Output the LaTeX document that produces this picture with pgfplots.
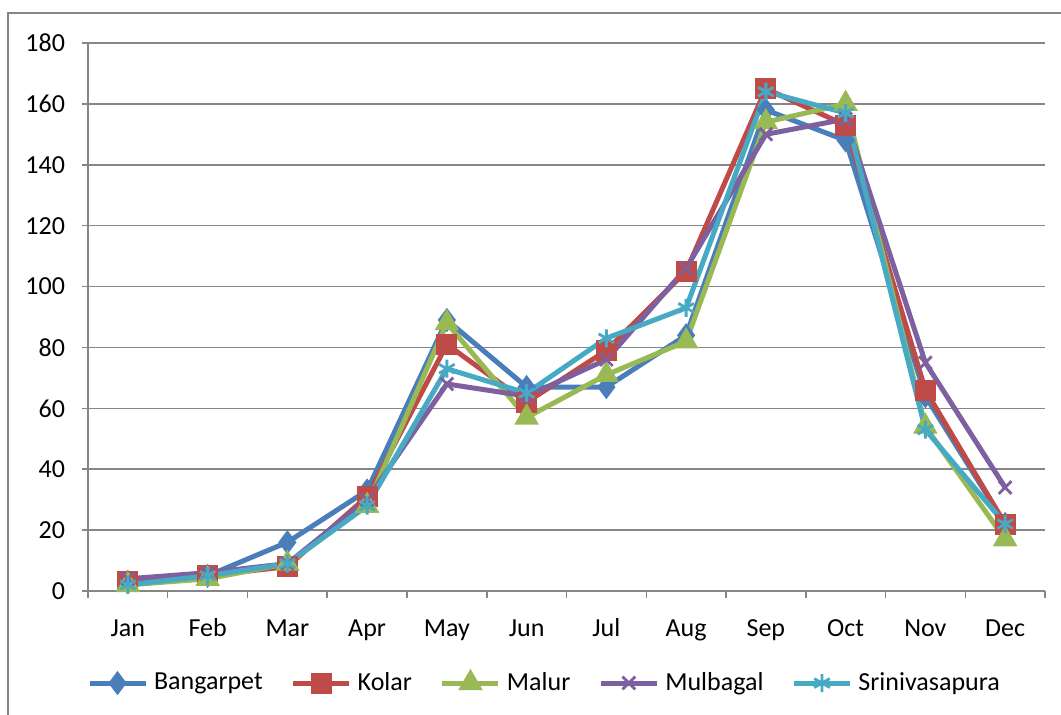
\documentclass[border=0pt]{standalone}
\usepackage{fontspec}
\setmainfont{Carlito}
\usepackage{pgfplots}
\pgfplotsset{compat=1.18}

\definecolor{cBan}{RGB}{74,126,187}
\definecolor{cKol}{RGB}{190,75,72}
\definecolor{cMal}{RGB}{152,185,84}
\definecolor{cMul}{RGB}{125,96,160}
\definecolor{cSri}{RGB}{70,170,197}
\definecolor{gridgray}{RGB}{134,134,134}

\begin{document}
\begin{tikzpicture}
\begin{axis}[at={(0,0)},anchor=south west,
  scale only axis,width=478.5pt,height=274pt,
  xmin=-0.5,xmax=11.5,ymin=0,ymax=180,
  xtick={0,...,11},
  xticklabels={Jan,Feb,Mar,Apr,May,Jun,Jul,Aug,Sep,Oct,Nov,Dec},
  minor xtick={-0.5,0.5,...,11.5},
  ytick={0,20,...,180},
  axis x line*=bottom,axis y line*=left,
  axis line style={gridgray,line width=0.75pt},
  ymajorgrids=true,
  grid style={gridgray,line width=0.75pt},
  tick align=outside,
  major tick length=3pt,minor tick length=3.5pt,
  every major x tick/.append style={draw=none},
  tick style={gridgray,line width=0.75pt},
  /pgf/number format/assume math mode=true,
  tick label style={font=\fontsize{13}{15}\selectfont,black},
  xticklabel style={text height=9pt,text depth=3pt,yshift=-7pt},
  yticklabel style={xshift=-5pt},
  legend style={font=\fontsize{13}{15}\selectfont,draw=none,
    at={(axis description cs:0.478,-0.168)},anchor=center,
    legend columns=5,
    /tikz/every odd column/.append style={column sep=1pt},
    /tikz/every even column/.append style={column sep=12pt}},
  legend image code/.code={
    \draw[mark repeat=2,mark phase=2] plot coordinates {(0pt,0pt) (14pt,0pt) (28pt,0pt)};},
  every axis plot/.append style={line width=2.5pt},
  ]
\addplot[cBan,mark=diamond*,mark size=4pt,mark options={solid}] coordinates {
(0,3) (1,5) (2,16) (3,33) (4,89) (5,67) (6,67) (7,84) (8,158) (9,148) (10,64) (11,22)
};
\addlegendentry{Bangarpet}
\addplot[cKol,mark=square*,mark size=4pt] coordinates {
(0,3) (1,5) (2,8) (3,31) (4,81) (5,62) (6,79) (7,105) (8,165) (9,153) (10,66) (11,22)
};
\addlegendentry{Kolar}
\addplot[cMal,mark=triangle*,mark size=4.6pt] coordinates {
(0,2) (1,4) (2,9) (3,28) (4,88) (5,57) (6,71) (7,82) (8,154) (9,160) (10,54) (11,17)
};
\addlegendentry{Malur}
\addplot[cMul,mark=x,mark size=4.5pt,mark options={line width=1.4pt}] coordinates {
(0,4) (1,6) (2,9) (3,30) (4,68) (5,64) (6,76) (7,106) (8,150) (9,155) (10,75) (11,34)
};
\addlegendentry{Mulbagal}
\addplot[cSri,mark=asterisk,mark size=4.5pt,mark options={line width=1.4pt}] coordinates {
(0,2) (1,5) (2,9) (3,28) (4,73) (5,65) (6,83) (7,93) (8,164) (9,157) (10,53) (11,22)
};
\addlegendentry{Srinivasapura}
\end{axis}
\draw[gridgray,line width=0.75pt] (-40pt,-70pt) -- (-40pt,289pt) -- (500pt,289pt);
\pgfresetboundingbox
\useasboundingbox (-44pt,-62pt) rectangle (486.5pt,295.5pt);
\end{tikzpicture}
\end{document}
